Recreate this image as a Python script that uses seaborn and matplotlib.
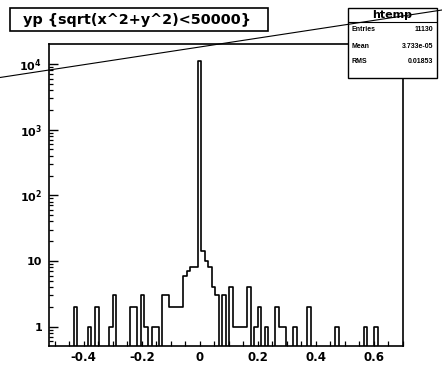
import numpy as np
import pandas as pd
import matplotlib
matplotlib.use("Agg")
import matplotlib.pyplot as plt
import seaborn as sns
from matplotlib.ticker import MultipleLocator, LogLocator, FuncFormatter, NullFormatter
from matplotlib.lines import Line2D
from matplotlib.patches import Rectangle

# yp binning: 100 bins over [-0.52, 0.70]
x_lo, x_hi, n_bins = -0.52, 0.70, 100

# filled bins (index, entries); every other bin is empty
bin_index = [7, 11, 13, 17, 18, 23, 24, 26, 27, 29, 30, 32, 33, 34, 35, 36, 37,
             38, 39, 40, 41, 42, 43, 44, 45, 46, 47, 49, 51, 52, 53, 54, 55, 56,
             58, 59, 61, 64, 65, 66, 69, 73, 81, 89, 92]
bin_count = [2, 1, 2, 1, 3, 2, 2, 3, 1, 1, 1, 3, 3, 2, 2, 2, 2,
             6, 7, 8, 8, 11000, 14, 10, 8, 4, 3, 3, 4, 1, 1, 1, 1, 4,
             1, 2, 1, 2, 1, 1, 1, 2, 1, 1, 1]

title_text = "yp {sqrt(x^2+y^2)<50000}"
stat_name = "htemp"
stat_labels = ["Entries", "Mean", "RMS"]
stat_values = ["11130", "3.733e-05", "0.01853"]

sns.set_style("ticks")
plt.rcParams["font.family"] = ["DejaVu Sans"]
plt.rcParams["font.weight"] = "bold"
plt.rcParams["mathtext.fontset"] = "dejavusans"
for key in ["text.color", "xtick.color", "ytick.color", "axes.labelcolor",
            "axes.edgecolor"]:
    plt.rcParams[key] = "black"

edges = np.linspace(x_lo, x_hi, n_bins + 1)
centers = 0.5 * (edges[:-1] + edges[1:])
df = pd.DataFrame({"yp": centers[bin_index], "n": bin_count})

W, H = 442, 368
fig = plt.figure(figsize=(W / 100, H / 100), dpi=100)
fig.patch.set_facecolor("white")


def fx(x):
    return x / W


def fy(y):
    return 1 - y / H


ax = fig.add_axes([fx(49), fy(346), fx(402.7) - fx(49), fy(44.3) - fy(346)])
ax.set_facecolor("white")

sns.histplot(data=df, x="yp", weights="n", bins=n_bins, binrange=(x_lo, x_hi),
             element="step", fill=False, color="black", linewidth=1.2, ax=ax)
ax.set_yscale("log")
ax.set_xlim(x_lo, x_hi)
ax.set_ylim(0.508, 1.99e4)
ax.set_xlabel("")
ax.set_ylabel("")

ax.xaxis.set_major_locator(MultipleLocator(0.2))
ax.xaxis.set_minor_locator(MultipleLocator(0.05))
ax.xaxis.set_major_formatter(FuncFormatter(
    lambda v, p: "0" if abs(v) < 1e-9 else f"{v:.1f}"))


def ylab(v, p):
    e = int(round(np.log10(v)))
    if e == 0:
        return "1"
    if e == 1:
        return "10"
    return r"$\mathbf{10^{%d}}$" % e


ax.yaxis.set_major_locator(LogLocator(base=10, numticks=10))
ax.yaxis.set_minor_locator(LogLocator(base=10, subs=np.arange(2, 10), numticks=20))
ax.yaxis.set_major_formatter(FuncFormatter(ylab))
ax.yaxis.set_minor_formatter(NullFormatter())

ax.tick_params(axis="x", which="both", direction="in", top=False, colors="black",
               labelsize=8.5, pad=3.5, length=3.6, width=0.9)
ax.tick_params(axis="y", which="major", direction="in", right=False, colors="black",
               length=6.5, width=1.0, labelsize=8, pad=5)
ax.tick_params(axis="y", which="minor", direction="in", right=False, colors="black",
               length=3.2, width=0.9)
for s in ax.spines.values():
    s.set_linewidth(1.2)
    s.set_color("black")

# title pave
fig.add_artist(Rectangle((fx(9.5), fy(30.5)), fx(268.3) - fx(9.5), fy(8.3) - fy(30.5),
                         transform=fig.transFigure, facecolor="white",
                         edgecolor="black", linewidth=1.2))
fig.text(fx(137), fy(20), title_text, ha="center", va="center", color="black",
         fontsize=10.4, fontweight="bold", family="DejaVu Sans")

# statistics box
fig.add_artist(Rectangle((fx(348.3), fy(78.3)), fx(436.7) - fx(348.3), fy(8.3) - fy(78.3),
                         transform=fig.transFigure, facecolor="white",
                         edgecolor="black", linewidth=1.0))
fig.add_artist(Line2D([fx(348.3), fx(436.7)], [fy(21.7), fy(21.7)],
                      transform=fig.transFigure, color="black", linewidth=0.8))
fig.text(fx(392.5), fy(14.5), stat_name, ha="center", va="center", color="black",
         fontsize=8, fontweight="bold", family="DejaVu Sans")
for lab, val, yy in zip(stat_labels, stat_values, [29.3, 46, 61.7]):
    fig.text(fx(352), fy(yy), lab, ha="left", va="center", fontsize=5,
             color="black", fontweight="bold", family="Liberation Sans")
    fig.text(fx(433), fy(yy), val, ha="right", va="center", fontsize=5,
             color="black", fontweight="bold", family="Liberation Sans")

# diagonal line across the canvas
fig.add_artist(Line2D([fx(0), fx(442)], [fy(77.5), fy(10)], transform=fig.transFigure,
                      color="black", linewidth=0.8, zorder=10))

fig.savefig("out.png", dpi=100, facecolor="white")
